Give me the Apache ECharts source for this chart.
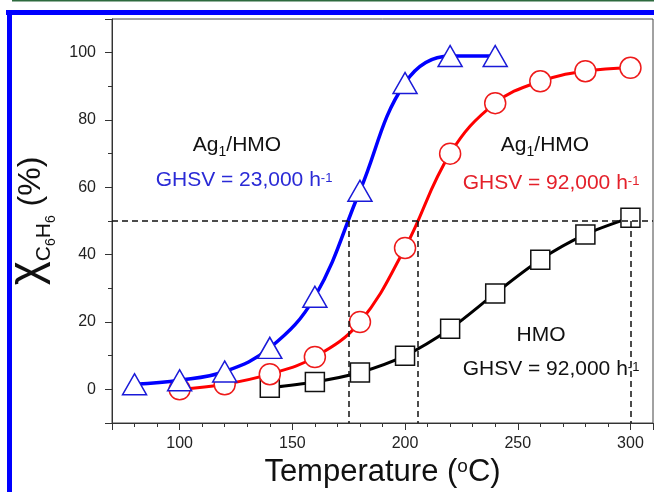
<!DOCTYPE html>
<html><head><meta charset="utf-8">
<script src="https://cdn.jsdelivr.net/npm/echarts@6/dist/echarts.min.js"></script>
<style>html,body{margin:0;padding:0;background:#fff}#c{width:654px;height:492px}</style>
</head><body><div id="c"></div>
<script>
// ---- data ----
const tempBlue = [80, 100, 120, 140, 160, 180, 200, 220, 240];
const convBlue = [1.5, 2.7, 5.3, 12.3, 27.5, 59, 91, 99, 99];
const tempRed = [100, 120, 140, 160, 180, 200, 220, 240, 260, 280, 300];
const convRed = [0, 1.5, 4.5, 9.6, 20, 42, 70, 85, 91.5, 94.5, 95.5];
const tempBlack = [140, 160, 180, 200, 220, 240, 260, 280, 300];
const convBlack = [0.5, 2.2, 5, 10, 18, 28.5, 38.5, 46, 51];
const halfLevel = 50;
const t50 = [175, 205.5, 300];
const xTickLabels = [100, 150, 200, 250, 300];
const yTickLabels = [0, 20, 40, 60, 80, 100];
const xRange = [70, 310];
const yRange = [-10, 110];

const FONT = '"Liberation Sans", Arial, sans-serif';
function pairs(xs, ys) { return xs.map((x, i) => [x, ys[i]]); }

function richFor(color) {
  return {
    n: {fontSize: 21, fontFamily: FONT, fill: color, lineHeight: 25, verticalAlign: 'top'},
    sb: {fontSize: 14, fontFamily: FONT, fill: color, lineHeight: 14, padding: [11, 0, 0, 0], verticalAlign: 'top'},
    sp: {fontSize: 13, fontFamily: FONT, fill: color, lineHeight: 13, padding: [2, 0, 0, 0], verticalAlign: 'top'}
  };
}
function annot(x, y, text, color) {
  return {type: 'text', x: x, y: y, z: 100,
    style: {text: text, rich: richFor(color), align: 'center', verticalAlign: 'middle', fontFamily: FONT, fontSize: 21, fill: color}};
}

const chart = echarts.init(document.getElementById('c'), null, {renderer: 'canvas'});
const axisColor = '#333';
const option = {
  animation: false,
  backgroundColor: '#fff',
  grid: {left: 112, top: 19, right: 1, bottom: 69, outerBoundsMode: 'none', containLabel: false,
    show: true, borderColor: '#444', borderWidth: 1, backgroundColor: 'transparent'},
  xAxis: [
    {type: 'value', min: xRange[0], max: xRange[1], interval: 10, position: 'bottom',
      axisLine: {show: true, onZero: false, lineStyle: {color: axisColor, width: 1}},
      axisTick: {show: true, length: 4, lineStyle: {color: axisColor}},
      axisLabel: {fontSize: 16, fontFamily: FONT, color: '#222', margin: 13,
        formatter: v => xTickLabels.includes(Math.round(v)) ? String(Math.round(v)) : ''},
      splitLine: {show: false},
      name: '{t|Temperature (}{o|o}{t|C)}', nameLocation: 'middle', nameGap: 33,
      nameTextStyle: {fontSize: 31, fontFamily: FONT, color: '#111',
        rich: {
          t: {fontSize: 31, fontFamily: FONT, color: '#111', lineHeight: 35, verticalAlign: 'top'},
          o: {fontSize: 19, fontFamily: FONT, color: '#111', lineHeight: 19, verticalAlign: 'top'}
        }}
    },
    {type: 'value', min: xRange[0], max: xRange[1], splitNumber: 5, position: 'bottom',
      axisLine: {show: false, onZero: false}, axisTick: {show: true, length: 7, lineStyle: {color: axisColor}},
      axisLabel: {show: false}, splitLine: {show: false}}
  ],
  yAxis: [
    {type: 'value', min: yRange[0], max: yRange[1], interval: 10, position: 'left',
      axisLine: {show: true, onZero: false, lineStyle: {color: axisColor, width: 1}},
      axisTick: {show: true, length: 4, lineStyle: {color: axisColor}},
      axisLabel: {fontSize: 16, fontFamily: FONT, color: '#222', margin: 16,
        formatter: v => yTickLabels.includes(Math.round(v)) ? String(Math.round(v)) : ''},
      splitLine: {show: false},
      name: '{chi|χ}{s|C}{ss|6}{s|H}{ss|6}{p| (%)}', nameLocation: 'middle', nameRotate: 90, nameGap: 58,
      nameTextStyle: {fontSize: 32, fontFamily: FONT, color: '#111',
        rich: {
          chi: {fontSize: 46, fontFamily: FONT, color: '#111', lineHeight: 46, verticalAlign: 'top'},
          s: {fontSize: 21, fontFamily: FONT, color: '#111', lineHeight: 21, padding: [29, 0, 0, 0], verticalAlign: 'top'},
          ss: {fontSize: 14, fontFamily: FONT, color: '#111', lineHeight: 14, padding: [40, 0, 0, 0], verticalAlign: 'top'},
          p: {fontSize: 32, fontFamily: FONT, color: '#111', lineHeight: 32, padding: [11, 0, 0, 0], verticalAlign: 'top'}
        }}
    },
    {type: 'value', min: yRange[0], max: yRange[1], splitNumber: 5, position: 'left',
      axisLine: {show: false, onZero: false}, axisTick: {show: true, length: 7, lineStyle: {color: axisColor}},
      axisLabel: {show: false}, splitLine: {show: false}}
  ],
  series: [
    {type: 'line', name: 'guides', data: [], z: 1, silent: true,
      markLine: {silent: true, symbol: ['none', 'none'], animation: false, label: {show: false},
        lineStyle: {type: [6, 4], color: '#111', width: 1.5},
        emphasis: {disabled: true},
        data: [[{coord: [xRange[0], halfLevel]}, {coord: [xRange[1], halfLevel]}]]
          .concat(t50.map(t => [{coord: [t, halfLevel]}, {coord: [t, yRange[0]]}]))}},
    {type: 'line', name: 'HMO', data: pairs(tempBlack, convBlack), z: 2, smooth: 0.3,
      symbol: 'rect', symbolSize: 19, showAllSymbol: true,
      itemStyle: {color: '#fff', borderColor: '#111', borderWidth: 1.5},
      lineStyle: {color: '#000', width: 3}},
    {type: 'line', name: 'Ag1/HMO 92000', data: pairs(tempRed, convRed), z: 3, smooth: 0.4,
      symbol: 'circle', symbolSize: 21, showAllSymbol: true,
      itemStyle: {color: '#fff', borderColor: '#ee1a1a', borderWidth: 1.5},
      lineStyle: {color: '#ff0000', width: 3}},
    {type: 'line', name: 'Ag1/HMO 23000', data: pairs(tempBlue, convBlue), z: 4, smooth: 0.4,
      symbol: 'triangle', symbolSize: [24, 21], showAllSymbol: true,
      itemStyle: {color: '#fff', borderColor: '#1a1ad8', borderWidth: 1.5},
      lineStyle: {color: '#0000ff', width: 3.5}}
  ],
  graphic: [
    {type: 'rect', shape: {x: 12, y: 0, width: 642, height: 1.5}, style: {fill: '#2d6a3e'}, z: 200},
    {type: 'rect', shape: {x: 6, y: 10, width: 648, height: 5}, style: {fill: '#0000ff'}, z: 200},
    {type: 'rect', shape: {x: 7, y: 10, width: 5, height: 482}, style: {fill: '#0000ff'}, z: 200},
    annot(237, 147, '{n|Ag}{sb|1}{n|/HMO}', '#111'),
    annot(244, 182, '{n|GHSV = 23,000 h}{sp|-1}', '#2a2ad6'),
    annot(545, 147, '{n|Ag}{sb|1}{n|/HMO}', '#111'),
    annot(551, 185, '{n|GHSV = 92,000 h}{sp|-1}', '#e4202a'),
    annot(541, 337, '{n|HMO}', '#111'),
    annot(551, 371, '{n|GHSV = 92,000 h}{sp|-1}', '#111')
  ]
};
chart.setOption(option);
</script>
</body></html>
